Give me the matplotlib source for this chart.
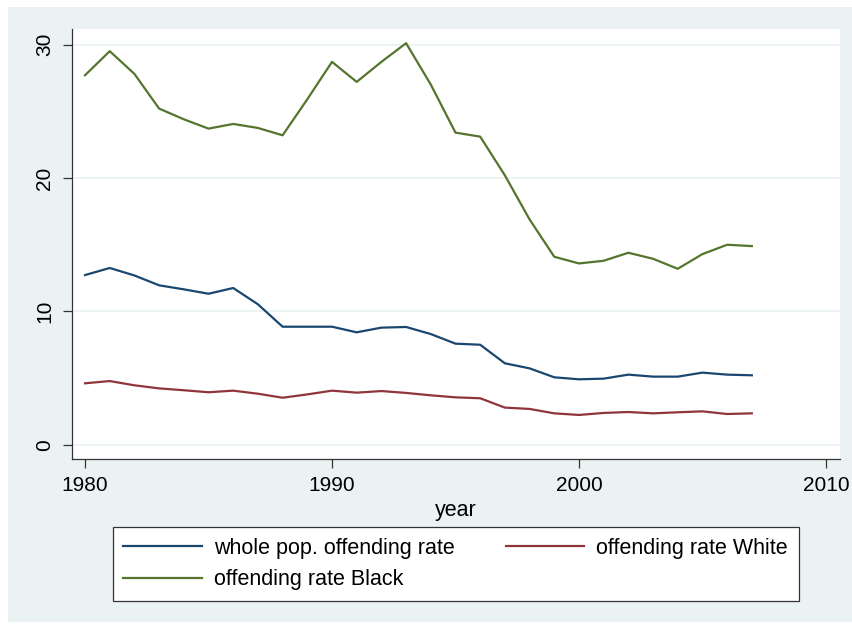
import matplotlib
matplotlib.use("Agg")
import matplotlib.pyplot as plt
from matplotlib.patches import Rectangle

plt.rcParams["font.family"] = ["Liberation Sans", "DejaVu Sans"]

years = list(range(1980, 2008))

whole_pop = [12.73, 13.26, 12.70, 11.96, 11.66, 11.33, 11.76, 10.54, 8.86, 8.86,
             8.86, 8.44, 8.79, 8.84, 8.31, 7.59, 7.51, 6.12, 5.74, 5.07,
             4.92, 4.97, 5.27, 5.12, 5.12, 5.42, 5.27, 5.22]

white = [4.62, 4.79, 4.47, 4.24, 4.10, 3.95, 4.07, 3.84, 3.54, 3.79,
         4.07, 3.92, 4.04, 3.90, 3.72, 3.57, 3.50, 2.80, 2.70, 2.37,
         2.25, 2.40, 2.47, 2.37, 2.45, 2.52, 2.32, 2.37]

black = [27.7, 29.5, 27.8, 25.2, 24.4, 23.7, 24.05, 23.75, 23.2, 25.9,
         28.7, 27.2, 28.7, 30.1, 27.0, 23.4, 23.1, 20.2, 16.9, 14.1,
         13.6, 13.8, 14.4, 13.95, 13.2, 14.3, 15.0, 14.9]

series_labels = ["whole pop. offending rate", "offending rate White", "offending rate Black"]
x_ticks = [1980, 1990, 2000, 2010]
y_ticks = [0, 10, 20, 30]

NAVY = "#1a476f"
MAROON = "#90353b"
GREEN = "#55752f"
BG = "#eaf2f3"

W, H = 852, 625
fig = plt.figure(figsize=(W / 100, H / 100), dpi=100, facecolor="white")

# graph region background
fig.patches.append(Rectangle((8 / W, 1 - 622 / H), (W - 8) / W, (622 - 7) / H,
                             transform=fig.transFigure, facecolor=BG,
                             edgecolor="none", zorder=-10))

left, right, top, bottom = 71.7, 840, 29.3, 459
ax = fig.add_axes([left / W, 1 - bottom / H, (right - left) / W, (bottom - top) / H])
ax.set_facecolor("white")

h_whole, = ax.plot(years, whole_pop, color=NAVY, lw=1.6, label=series_labels[0])
h_white, = ax.plot(years, white, color=MAROON, lw=1.6, label=series_labels[1])
h_black, = ax.plot(years, black, color=GREEN, lw=1.6, label=series_labels[2])

ax.set_xlim(1979.46, 2010.57)
ax.set_ylim(-1.05, 31.14)
ax.set_xticks(x_ticks)
ax.set_yticks(y_ticks)
ax.set_yticklabels([str(v) for v in y_ticks], rotation=90, va="center")
ax.tick_params(axis="both", length=6.5, width=0.9, color="#333333",
               labelsize=15, pad=6)
ax.grid(axis="y", color=BG, lw=1.3)
ax.set_axisbelow(True)
for s in ["top", "right"]:
    ax.spines[s].set_visible(False)
for s in ["left", "bottom"]:
    ax.spines[s].set_color("#333333")
    ax.spines[s].set_linewidth(0.9)

ax.set_xlabel("year", fontsize=15.5, labelpad=3)

# legend entries filled row by row (matplotlib fills columns first)
leg_handles = [h_whole, h_black, h_white]
leg = fig.legend(leg_handles, [h.get_label() for h in leg_handles], ncol=2,
                 mode="expand",
                 bbox_to_anchor=(112.7 / W, 1 - 599 / H, 686 / W, 70 / H),
                 loc="center", fontsize=15.5, frameon=True, fancybox=False,
                 edgecolor="#333333", framealpha=1, handlelength=3.65,
                 handletextpad=0.55, borderpad=0.5, labelspacing=0.5,
                 borderaxespad=0)
leg.get_frame().set_linewidth(0.9)

fig.savefig("out.png", dpi=100, facecolor="white")
